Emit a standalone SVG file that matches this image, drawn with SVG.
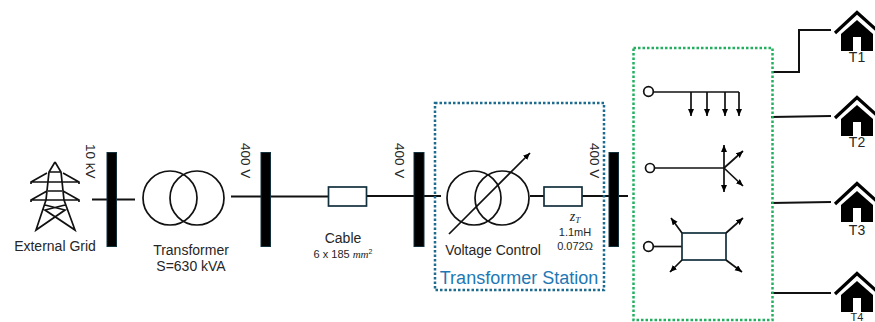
<svg xmlns="http://www.w3.org/2000/svg" width="875" height="322" viewBox="0 0 875 322">
<style>
text{font-family:"Liberation Sans",Arial,sans-serif;fill:#262626;text-anchor:middle}
.l{font-size:14px}.s{font-size:11px}.v{font-size:13.500px;text-anchor:start}.m{font-family:"Liberation Serif",serif;font-style:italic}
.w{fill:none;stroke:#111;stroke-width:2}
.t{fill:none;stroke:#111;stroke-width:1.700}
.bus{fill:#000;stroke:#12303c;stroke-width:1}
.box{fill:#fff;stroke:#12303c;stroke-width:1.700}
.a{fill:none;stroke:#111;stroke-width:1.700;marker-end:url(#ah)}
.roof{fill:none;stroke:#000;stroke-width:3.200}
</style>
<defs>
<marker id="ah" markerUnits="userSpaceOnUse" markerWidth="8" markerHeight="8" refX="7" refY="3" orient="auto"><path d="M0 0L7 3L0 6Z" fill="#000"/></marker>
<g id="house"><path class="roof" d="M835 33L857 12.500L880 33"/><path d="M857 20L841 34V51H873V34Z" fill="#000"/><rect x="853" y="37" width="8" height="14" fill="#fff"/></g>
</defs>
<g id="connectors">
<path class="w" d="M92 199.500H135"/>
<path class="w" d="M231 196.500H328M366 196H441M530 196H544M582 196H628"/>
<path class="w" d="M772 72H799V30H831M771 117L831 116M771 203L831 202M771 293H831"/>
</g>
<g id="external-grid">
<path class="t" d="M55 162L49 172L46 200L36 230L65 210L45 205M55 162L61 172L64 200L75 230L45 210L65 205M49 172H61M31 184V182L47 173M79 184V182L63 173M31 182H79M48 191H62M31 202V200L47 191M79 202V200L63 191M31 200H79"/>
<text class="l" x="55" y="251">External Grid</text>
</g>
<g id="bus-10kv"><rect class="bus" x="107" y="152.500" width="9.500" height="94"/><text class="v" transform="translate(86 144) rotate(90)">10 kV</text></g>
<g id="transformer">
<circle class="t" cx="170" cy="198" r="27"/><circle class="t" cx="197" cy="198" r="27"/>
<text class="l" x="191" y="255">Transformer</text><text class="l" x="191" y="271">S=630 kVA</text>
</g>
<g id="bus-400v-1"><rect class="bus" x="261" y="152.500" width="9.500" height="94"/><text class="v" transform="translate(241 143) rotate(90)">400 V</text></g>
<g id="cable">
<rect class="box" x="328.500" y="187" width="38" height="19"/>
<text class="l" x="343" y="243">Cable</text>
<text class="s" x="343" y="258">6 x 185 <tspan class="m">mm</tspan><tspan font-size="7" dy="-4">2</tspan></text>
</g>
<g id="bus-400v-2"><rect class="bus" x="414" y="152.500" width="10" height="94"/><text class="v" transform="translate(395 143) rotate(90)">400 V</text></g>
<g id="transformer-station">
<rect x="435" y="103" width="169" height="187" fill="none" stroke="#1d6b8f" stroke-width="2.500" stroke-dasharray="2.500 2"/>
<circle class="t" cx="474" cy="198" r="27"/><circle class="t" cx="502" cy="198" r="27"/>
<path class="a" d="M449 234L530 153"/>
<rect class="box" x="544" y="187" width="38" height="19"/>
<text class="l" x="493" y="255">Voltage Control</text>
<text class="m" font-size="14" x="575" y="221">z<tspan font-size="9" dy="2">T</tspan></text>
<text class="s" x="575" y="236">1.1mH</text><text class="s" x="575" y="250">0.072Ω</text>
<text x="519" y="284" font-size="18" style="fill:#1f78b4">Transformer Station</text>
</g>
<g id="bus-400v-3"><rect class="bus" x="609" y="152.500" width="9.500" height="94"/><text class="v" transform="translate(590 143) rotate(90)">400 V</text></g>
<g id="loads">
<rect x="633.500" y="48" width="139" height="272" fill="none" stroke="#22b060" stroke-width="2.500" stroke-dasharray="2.500 2"/>
<circle class="t" cx="648.500" cy="91.500" r="4.800"/>
<path class="t" d="M653 92H739"/>
<path class="a" d="M691 92V116"/><path class="a" d="M707 92V116"/><path class="a" d="M725 92V116"/><path class="a" d="M739 92V116"/>
<circle class="t" cx="650" cy="168" r="4.500"/>
<path class="t" d="M655 168H724"/>
<path class="a" d="M724 168V145"/><path class="a" d="M724 168V192"/><path class="a" d="M724 168L743 151"/><path class="a" d="M724 168L743 186"/>
<circle class="t" cx="648.500" cy="246.500" r="4.800"/>
<path class="t" d="M653 246.500H682"/>
<rect x="682" y="233" width="44" height="27" fill="#fff" stroke="#12303c" stroke-width="1.700"/>
<path class="a" d="M682 233L671 218"/><path class="a" d="M726 233L743 218"/><path class="a" d="M682 260L670 272"/><path class="a" d="M726 260L742 272"/>
</g>
<g id="t1"><use href="#house"/><text class="l" x="857" y="62">T1</text></g>
<g id="t2"><use href="#house" y="85"/><text class="l" x="857" y="147">T2</text></g>
<g id="t3"><use href="#house" y="171"/><text class="l" x="857" y="235">T3</text></g>
<g id="t4"><use href="#house" y="261"/><text x="857" y="321" font-size="11">T4</text></g>
</svg>
